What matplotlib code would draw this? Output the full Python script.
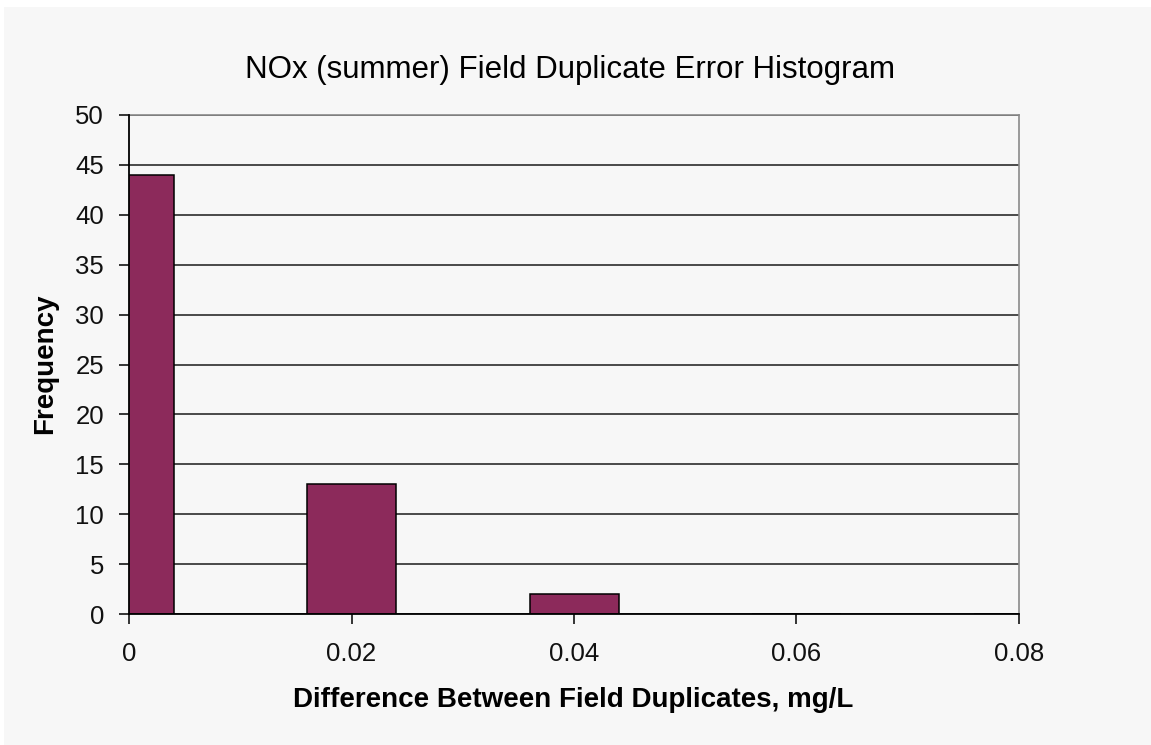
import matplotlib.pyplot as plt
from matplotlib.patches import Rectangle

bin_centers = [0.0, 0.02, 0.04, 0.06, 0.08]
frequency = [44, 13, 2, 0, 0]
x_ticks = [0, 0.02, 0.04, 0.06, 0.08]
x_tick_labels = ['0', '0.02', '0.04', '0.06', '0.08']
y_ticks = list(range(0, 51, 5))

plt.rcParams['font.family'] = 'Liberation Sans'

fig = plt.figure(figsize=(11.51, 7.45), dpi=100, facecolor='white')
# grey chart area, leaving a thin white strip top and left
bg = Rectangle((4 / 1151, 0), 1, 1 - 7 / 745, transform=fig.transFigure,
               facecolor='#f7f7f7', edgecolor='none', zorder=-10)
fig.patches.append(bg)

ax = fig.add_axes([129 / 1151, 1 - 614 / 745, 890 / 1151, 499 / 745])
ax.set_facecolor('#f7f7f7')

ax.bar(bin_centers, frequency, width=0.008, color='#8c2a5b', edgecolor='black',
       linewidth=1.1, zorder=3)

ax.set_xlim(0, 0.08)
ax.set_ylim(0, 50)
ax.set_xticks(x_ticks)
ax.set_xticklabels(x_tick_labels)
ax.set_yticks(y_ticks)
ax.tick_params(axis='both', direction='out', length=7, width=1.1, color='black',
               labelsize=18.5, labelcolor='#111111')
ax.tick_params(axis='y', pad=11)
ax.tick_params(axis='x', pad=13)

ax.yaxis.grid(True, color='#2b2b2b', linewidth=1.2, zorder=1)
ax.set_axisbelow(True)

for side in ['left', 'bottom']:
    ax.spines[side].set_color('black')
    ax.spines[side].set_linewidth(1.3)
    ax.spines[side].set_zorder(4)
for side in ['top', 'right']:
    ax.spines[side].set_color('#8a8a8a')
    ax.spines[side].set_linewidth(1.2)

fig.text(570 / 1151, 1 - 70 / 745, 'NOx (summer) Field Duplicate Error Histogram',
         ha='center', va='center', fontsize=22.5)
fig.text(573 / 1151, 1 - 700 / 745, 'Difference Between Field Duplicates, mg/L',
         ha='center', va='center', fontsize=20, fontweight='bold')
fig.text(45 / 1151, 1 - 364 / 745, 'Frequency', ha='center', va='center',
         rotation=90, fontsize=20, fontweight='bold')

fig.savefig('out.png', dpi=100, facecolor=fig.get_facecolor())
